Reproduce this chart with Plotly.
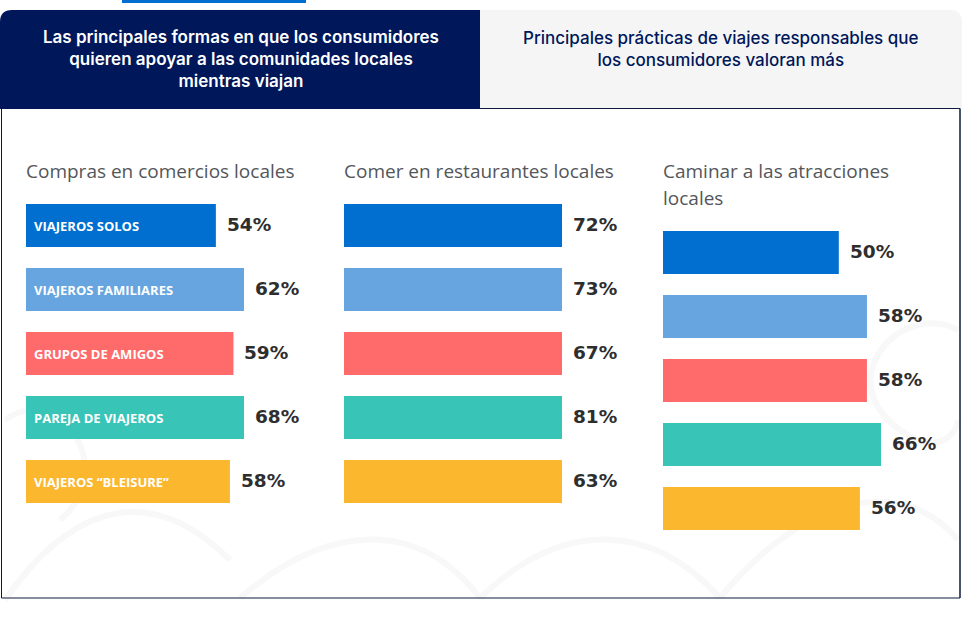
import plotly.graph_objects as go

W, H = 966, 625

# ---------------- data ----------------
groups = ["VIAJEROS SOLOS", "VIAJEROS FAMILIARES", "GRUPOS DE AMIGOS",
          "PAREJA DE VIAJEROS", "VIAJEROS \u201cBLEISURE\u201d"]
colors = ["#006fcf", "#66a5e0", "#ff6b6b", "#38c4b6", "#fbb72e"]

titles = ["Compras en comercios locales",
          "Comer en restaurantes locales",
          "Caminar a las atracciones"]
title3_line2 = "locales"

compras = [54, 62, 59, 68, 58]
comer = [72, 73, 67, 81, 63]
caminar = [50, 58, 58, 66, 56]
series = [compras, comer, caminar]

header_left = "Las principales formas en que los consumidores<br>quieren apoyar a las comunidades locales<br>mientras viajan"
header_right = "Principales prácticas de viajes responsables que<br>los consumidores valoran más"

# ---------------- layout helpers ----------------
XMAX = 62  # visible range of each bar axis (longer bars are clipped at the edge)
col_left = [26, 344, 663]
col_w = 218
col_top = [193.5, 193.5, 220.5]
band = 64


def X(px):
    return px / W


def Y(py):
    return 1 - py / H


fig = go.Figure()

for i, vals in enumerate(series):
    ax = "" if i == 0 else str(i + 1)
    fig.add_trace(go.Bar(
        x=vals, y=groups, orientation="h",
        marker=dict(color=colors, line=dict(width=0)),
        xaxis="x" + ax, yaxis="y" + ax,
        hoverinfo="x+y", showlegend=False,
    ))
    top = col_top[i]
    bottom = top + band * len(groups)
    fig.layout["xaxis" + ax] = dict(
        domain=[X(col_left[i]), X(col_left[i] + col_w)], range=[0, XMAX],
        visible=False, fixedrange=True, anchor="y" + ax)
    fig.layout["yaxis" + ax] = dict(
        domain=[Y(bottom), Y(top)], categoryorder="array", categoryarray=groups,
        autorange="reversed", visible=False, fixedrange=True, anchor="x" + ax)

    # value labels
    for g, v in zip(groups, vals):
        fig.add_annotation(
            x=min(v, XMAX), y=g, xref="x" + ax, yref="y" + ax,
            text=f"<b>{v}%</b>", showarrow=False, xanchor="left", yanchor="middle",
            xshift=9, yshift=1, font=dict(family="DejaVu Sans", size=18.5, color="#2e2e2e"))

# inner labels (first column)
for g in groups:
    fig.add_annotation(
        x=0, y=g, xref="x", yref="y", text=f"<b>{g}</b>", showarrow=False,
        xanchor="left", yanchor="middle", xshift=6,
        font=dict(family="Open Sans", size=13, color="white"))

# column titles
for i, t in enumerate(titles):
    fig.add_annotation(
        x=X(col_left[i] - 2), y=Y(171), xref="paper", yref="paper", text=t,
        showarrow=False, xanchor="left", yanchor="middle",
        font=dict(family="Open Sans", size=19, color="#53565a"))
fig.add_annotation(
    x=X(col_left[2] - 2), y=Y(198), xref="paper", yref="paper", text=title3_line2,
    showarrow=False, xanchor="left", yanchor="middle",
    font=dict(family="Open Sans", size=19, color="#53565a"))

# header tab texts
fig.add_annotation(
    x=X(241), y=Y(59), xref="paper", yref="paper", text=header_left,
    showarrow=False, xanchor="center", yanchor="middle", align="center",
    font=dict(family="Inter", size=17, color="white", weight=600))
fig.add_annotation(
    x=X(721), y=Y(48.5), xref="paper", yref="paper", text=header_right,
    showarrow=False, xanchor="center", yanchor="middle", align="center",
    font=dict(family="Inter", size=17, color="#00175a", weight=500))

# ---------------- decorative shapes ----------------
shapes = []


def P(px, py):
    return f"{X(px):.5f},{Y(py):.5f}"


# faint watermark swirls
wm = "#f8f8f8"
swirl_paths = [
    f"M {P(5,600)} C {P(60,520)} {P(140,470)} {P(230,560)}",
    f"M {P(240,598)} C {P(330,520)} {P(420,520)} {P(480,598)}",
    f"M {P(480,598)} C {P(560,520)} {P(650,520)} {P(720,598)}",
    f"M {P(720,598)} C {P(800,500)} {P(900,470)} {P(958,540)}",
    f"M {P(5,420)} C {P(60,380)} {P(120,470)} {P(60,520)}",
    f"M {P(958,330)} C {P(900,300)} {P(830,380)} {P(900,430)} C {P(940,460)} {P(958,430)} {P(958,420)}",
]
for p in swirl_paths:
    shapes.append(dict(type="path", path=p, xref="paper", yref="paper",
                       line=dict(color=wm, width=6), layer="below"))

# main box border
shapes.append(dict(type="rect", xref="paper", yref="paper",
                   x0=X(1.5), x1=X(960), y0=Y(598), y1=Y(108.5),
                   line=dict(color="#0b1a3c", width=1), fillcolor="rgba(0,0,0,0)",
                   layer="below"))

# light tab (right)
r = 12
shapes.append(dict(
    type="path", xref="paper", yref="paper",
    path=(f"M {P(480,10)} L {P(962-r,10)} Q {P(962,10)} {P(962,10+r)} "
          f"L {P(962,108)} L {P(480,108)} Z"),
    fillcolor="#f5f5f6", line=dict(width=0), layer="below"))
# box top border across the light tab
shapes.append(dict(type="line", xref="paper", yref="paper",
                   x0=X(480), x1=X(960), y0=Y(108.5), y1=Y(108.5),
                   line=dict(color="#0b1a3c", width=1)))
shapes.append(dict(type="line", xref="paper", yref="paper",
                   x0=X(960), x1=X(960), y0=Y(108.5), y1=Y(598),
                   line=dict(color="#0b1a3c", width=1)))

# dark tab (left)
shapes.append(dict(
    type="path", xref="paper", yref="paper",
    path=(f"M {P(0,109)} L {P(0,10+r)} Q {P(0,10)} {P(r,10)} "
          f"L {P(480,10)} L {P(480,109)} Z"),
    fillcolor="#00175a", line=dict(width=0), layer="below"))

# top blue strip
shapes.append(dict(type="rect", xref="paper", yref="paper",
                   x0=X(122), x1=X(306), y0=Y(3), y1=Y(0),
                   fillcolor="#006fcf", line=dict(width=0), layer="below"))

fig.update_layout(
    width=W, height=H, margin=dict(l=0, r=0, t=0, b=0),
    paper_bgcolor="white", plot_bgcolor="rgba(0,0,0,0)",
    bargap=21 / 64, shapes=shapes, showlegend=False,
)

fig.write_html("out.html", config={"displayModeBar": False})
